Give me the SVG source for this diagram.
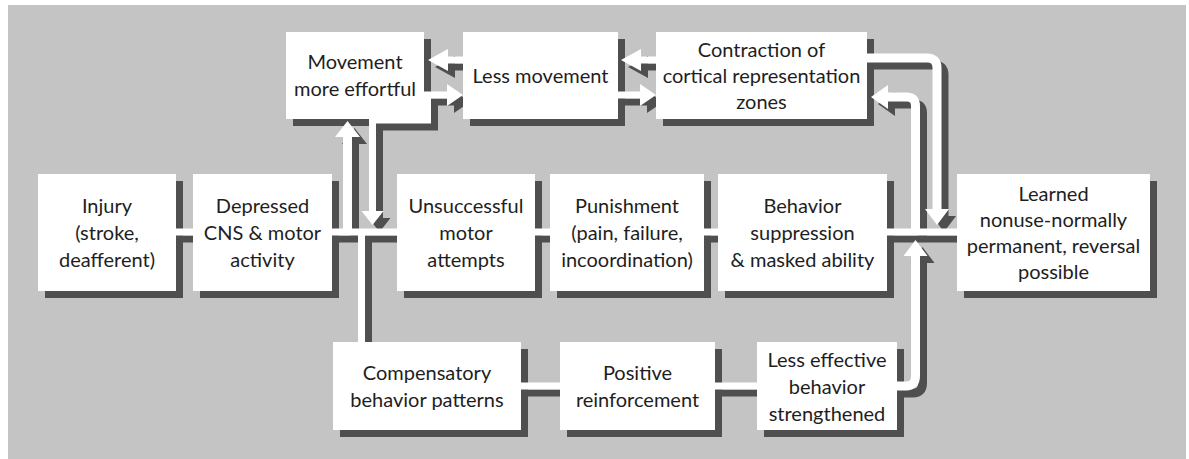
<svg xmlns="http://www.w3.org/2000/svg" xmlns:xlink="http://www.w3.org/1999/xlink" width="1189" height="459" viewBox="0 0 1189 459">
<style>
  .bg{fill:#c4c4c4}
  .sh{fill:#4f4f4f}
  .box{fill:#ffffff}
  .t{font-family:Lato,"Open Sans","Liberation Sans",sans-serif;font-size:20px;fill:#1e1e1e;text-anchor:middle}
  .ln{fill:none;stroke-width:7}
  .tk{fill:none;stroke-width:9}
  .ah{stroke:none}
</style>
<defs>
  <g id="conn-geom">
    <path class="ln" d="M176 232 H957"/>
    <path class="ln" d="M361.5 232 V345"/>
    <path class="ln" d="M500 386 H907"/>
    <path class="tk" d="M347.5 232 V136"/>
    <polygon class="ah" points="347.5,121 335,137 360,137"/>
    <path class="ln" d="M372.5 212 V120 H427.5 V95 H448"/>
    <polygon class="ah" points="372.5,225 361.5,211 383.5,211"/>
    <polygon class="ah" points="463,95 447,84 447,106"/>
    <path class="ln" d="M463 60 H446"/>
    <polygon class="ah" points="428,60 448,49 448,71"/>
    <path class="ln" d="M618 95 H642"/>
    <polygon class="ah" points="656,95 640,84 640,106"/>
    <path class="ln" d="M656 60 H639"/>
    <polygon class="ah" points="621,60 641,49 641,71"/>
    <path class="tk" d="M915.5 232 V106 Q915.5 97 906.5 97 H886"/>
    <polygon class="ah" points="871,97 888,85 888,109"/>
    <path class="tk" d="M867 58 H927 Q937 58 937 68 V211"/>
    <polygon class="ah" points="937,225 925,209 949,209"/>
    <path class="tk" d="M896 386 H906 Q915.5 386 915.5 376 V254"/>
    <polygon class="ah" points="915.5,240 903.5,256 927.5,256"/>
  </g>
</defs>
<rect class="bg" x="8" y="5" width="1178" height="454"/>

<g id="box-shadows" class="sh">
  <rect x="293" y="39" width="138" height="87"/>
  <rect x="470" y="39" width="155" height="87"/>
  <rect x="663" y="39" width="211" height="87"/>
  <rect x="45" y="181" width="138" height="117"/>
  <rect x="200" y="181" width="139" height="117"/>
  <rect x="404" y="181" width="138" height="117"/>
  <rect x="557" y="181" width="154" height="117"/>
  <rect x="725" y="181" width="169" height="117"/>
  <rect x="964" y="181" width="193" height="117"/>
  <rect x="340" y="349" width="188" height="88"/>
  <rect x="567" y="349" width="155" height="88"/>
  <rect x="764" y="349" width="140" height="88"/>
</g>

<g id="connectors">
  <use xlink:href="#conn-geom" transform="translate(7,7)" stroke="#4f4f4f" fill="#4f4f4f"/>
  <use xlink:href="#conn-geom" stroke="#ffffff" fill="#ffffff"/>
</g>

<g id="n-movement">
  <rect class="box" x="286" y="32" width="138" height="87"/>
  <text class="t" x="355" y="69">Movement</text>
  <text class="t" x="355" y="96">more effortful</text>
</g>
<g id="n-less-movement">
  <rect class="box" x="463" y="32" width="155" height="87"/>
  <text class="t" x="540.5" y="83">Less movement</text>
</g>
<g id="n-contraction">
  <rect class="box" x="656" y="32" width="211" height="87"/>
  <text class="t" x="761.5" y="57">Contraction of</text>
  <text class="t" x="761.5" y="83">cortical representation</text>
  <text class="t" x="761.5" y="109">zones</text>
</g>
<g id="n-injury">
  <rect class="box" x="38" y="174" width="138" height="117"/>
  <text class="t" x="107" y="213">Injury</text>
  <text class="t" x="107" y="240">(stroke,</text>
  <text class="t" x="107" y="267">deafferent)</text>
</g>
<g id="n-depressed">
  <rect class="box" x="193" y="174" width="139" height="117"/>
  <text class="t" x="262.5" y="213">Depressed</text>
  <text class="t" x="262.5" y="240">CNS &amp; motor</text>
  <text class="t" x="262.5" y="267">activity</text>
</g>
<g id="n-unsuccessful">
  <rect class="box" x="397" y="174" width="138" height="117"/>
  <text class="t" x="466" y="213">Unsuccessful</text>
  <text class="t" x="466" y="240">motor</text>
  <text class="t" x="466" y="267">attempts</text>
</g>
<g id="n-punishment">
  <rect class="box" x="550" y="174" width="154" height="117"/>
  <text class="t" x="627" y="213">Punishment</text>
  <text class="t" x="627" y="240">(pain, failure,</text>
  <text class="t" x="627" y="267">incoordination)</text>
</g>
<g id="n-behavior">
  <rect class="box" x="718" y="174" width="169" height="117"/>
  <text class="t" x="802.5" y="213">Behavior</text>
  <text class="t" x="802.5" y="240">suppression</text>
  <text class="t" x="802.5" y="267">&amp; masked ability</text>
</g>
<g id="n-learned">
  <rect class="box" x="957" y="174" width="193" height="117"/>
  <text class="t" x="1053.5" y="201">Learned</text>
  <text class="t" x="1053.5" y="227">nonuse-normally</text>
  <text class="t" x="1053.5" y="253">permanent, reversal</text>
  <text class="t" x="1053.5" y="279">possible</text>
</g>
<g id="n-compensatory">
  <rect class="box" x="333" y="342" width="188" height="88"/>
  <text class="t" x="427" y="380">Compensatory</text>
  <text class="t" x="427" y="407">behavior patterns</text>
</g>
<g id="n-positive">
  <rect class="box" x="560" y="342" width="155" height="88"/>
  <text class="t" x="637.5" y="380">Positive</text>
  <text class="t" x="637.5" y="407">reinforcement</text>
</g>
<g id="n-less-effective">
  <rect class="box" x="757" y="342" width="140" height="88"/>
  <text class="t" x="827" y="367">Less effective</text>
  <text class="t" x="827" y="394">behavior</text>
  <text class="t" x="827" y="421">strengthened</text>
</g>
</svg>
